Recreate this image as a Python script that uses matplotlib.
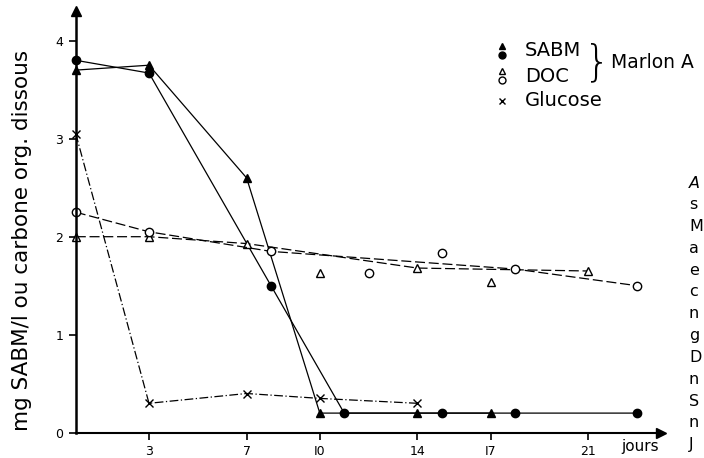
import numpy as np
import matplotlib.pyplot as plt

# SABM (Marlon A) - two replicates, solid lines
sabm_tri_days = [0, 3, 7, 10, 14, 17]
sabm_tri = [3.7, 3.75, 2.6, 0.2, 0.2, 0.2]
sabm_dot_days = [0, 3, 8, 11, 15, 18, 23]
sabm_dot = [3.8, 3.67, 1.5, 0.2, 0.2, 0.2, 0.2]

# DOC (Marlon A) - dashed lines + loose points
doc_tri_days = [0, 3, 7, 14, 21]
doc_tri = [2.0, 2.0, 1.93, 1.68, 1.65]
doc_tri_pts_days = [10, 17]
doc_tri_pts = [1.63, 1.54]
doc_dot_days = [0, 3, 8, 18, 23]
doc_dot = [2.25, 2.05, 1.85, 1.67, 1.5]
doc_dot_pts_days = [12, 15]
doc_dot_pts = [1.63, 1.83]

# Glucose - dash-dot
gluc_days = [0, 3, 7, 10, 14]
gluc = [3.05, 0.3, 0.4, 0.35, 0.3]

xticks = [3, 7, 10, 14, 17, 21]
xlabels = ['3', '7', 'I0', '14', 'I7', '21']
yticks = [0, 1, 2, 3, 4]

# cut off caption letters at right edge of the page
caption = ['A', 's', 'M', 'a', 'e', 'c', 'n', 'g', 'D', 'n', 'S', 'n', 'J']

W, H = 704, 458
fig = plt.figure(figsize=(W / 100, H / 100), dpi=100)
ax = fig.add_axes([75.8 / W, (H - 432.7) / H, 585.6 / W, 421.4 / H])
ax.set_xlim(0, 24)
ax.set_ylim(0, 4.3)

k = 'black'
ax.plot(sabm_tri_days, sabm_tri, '-', color=k, lw=0.9, marker='^', ms=6, clip_on=False)
ax.plot(sabm_dot_days, sabm_dot, '-', color=k, lw=0.9, marker='o', ms=6, clip_on=False)
ax.plot(doc_tri_days, doc_tri, color=k, lw=0.9, ls=(0, (8, 3)), marker='^', ms=6,
        mfc='white', clip_on=False)
ax.plot(doc_dot_days, doc_dot, color=k, lw=0.9, ls=(0, (8, 3)), marker='o', ms=6,
        mfc='white', clip_on=False)
ax.plot(doc_tri_pts_days, doc_tri_pts, ls='none', color=k, marker='^', ms=6, mfc='white')
ax.plot(doc_dot_pts_days, doc_dot_pts, ls='none', color=k, marker='o', ms=6, mfc='white')
ax.plot(gluc_days, gluc, color=k, lw=0.9, ls=(0, (7, 2, 1, 2)), marker='x', ms=6,
        clip_on=False)

for s in ['top', 'right']:
    ax.spines[s].set_visible(False)
ax.spines['left'].set_linewidth(1.8)
ax.spines['bottom'].set_linewidth(1.5)
ax.plot(0, 1, marker='^', color=k, ms=7, transform=ax.transAxes, clip_on=False)
ax.plot(1, 0, marker='>', color=k, ms=7, transform=ax.transAxes, clip_on=False)

ax.set_xticks(xticks)
ax.set_xticklabels(xlabels)
ax.set_yticks(yticks)
ax.tick_params(direction='out', length=5, width=1.2, labelsize=9, pad=4)
ax.set_ylabel('mg SABM/l ou carbone org. dissous', fontsize=15.5)
ax.yaxis.set_label_coords(-0.075, 0.457)
fig.text(640 / W, 1 - 447 / H, 'jours', fontsize=11, ha='center', va='center')

# legend drawn by hand
def fx(px):
    return px / W

def fy(py):
    return 1 - py / H

lx = 502
tf = fig.transFigure
fig.lines.append(plt.Line2D([fx(lx)], [fy(46)], marker='^', ms=5, color=k, transform=tf))
fig.lines.append(plt.Line2D([fx(lx)], [fy(55)], marker='o', ms=5, color=k, transform=tf))
fig.lines.append(plt.Line2D([fx(lx)], [fy(71)], marker='^', ms=5, color=k, mfc='white',
                            transform=tf))
fig.lines.append(plt.Line2D([fx(lx)], [fy(80)], marker='o', ms=5, color=k, mfc='white',
                            transform=tf))
fig.lines.append(plt.Line2D([fx(lx)], [fy(101)], marker='x', ms=5, color=k, transform=tf))
for t, y in [('SABM', 51), ('DOC', 76), ('Glucose', 101)]:
    fig.text(fx(525), fy(y), t, fontsize=14, va='center', ha='left')
fig.text(fx(597), fy(63), '}', fontsize=30, va='center', ha='center', fontweight='light')
fig.text(fx(611), fy(63), 'Marlon A', fontsize=13.5, va='center', ha='left')

for i, c in enumerate(caption):
    fig.text(fx(689), fy(183 + 21.8 * i), c, fontsize=11.5, va='center', ha='left',
             style='italic' if i == 0 else 'normal')

fig.savefig('out.png', dpi=100)
